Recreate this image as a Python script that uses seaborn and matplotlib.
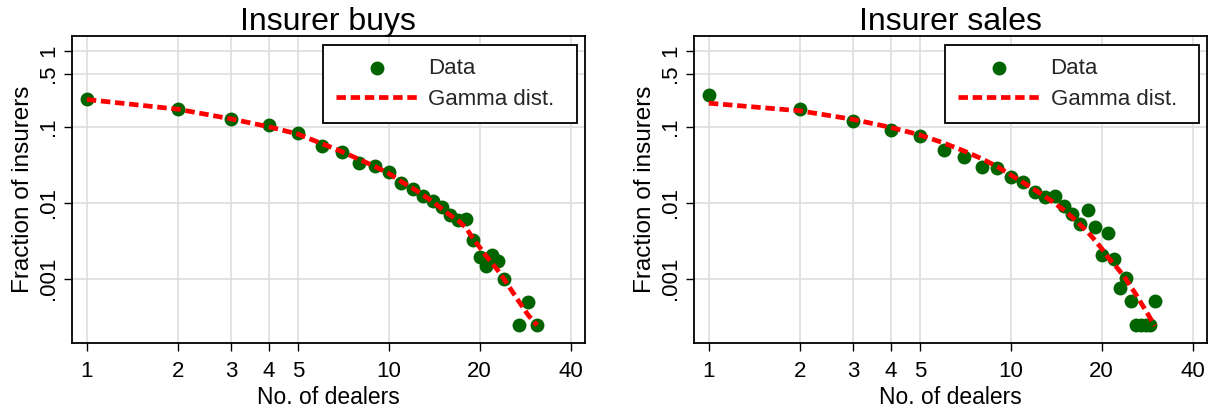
import matplotlib
matplotlib.use("Agg")
import matplotlib.pyplot as plt
from matplotlib.ticker import FixedLocator, FixedFormatter, NullLocator
import pandas as pd
import seaborn as sns

# --- data -------------------------------------------------------------
titles = ["Insurer buys", "Insurer sales"]

dealers_buys = [1, 2, 3, 4, 5, 6, 7, 8, 9, 10, 11, 12, 13, 14, 15, 16, 17, 18,
                19, 20, 21, 22, 23, 24, 27, 29, 31]
frac_buys = [0.233, 0.173, 0.126, 0.105, 0.082, 0.056, 0.046, 0.033, 0.030,
             0.025, 0.0183, 0.0150, 0.0122, 0.0105, 0.0087, 0.0070, 0.0060,
             0.0061, 0.0032, 0.00195, 0.00147, 0.00203, 0.00172, 0.00098,
             0.000247, 0.00049, 0.000247]
gamma_buys = [0.228, 0.170, 0.127, 0.100, 0.080, 0.060, 0.047, 0.037, 0.030,
              0.0243, 0.0190, 0.0155, 0.0126, 0.0103, 0.0083, 0.0068, 0.0058,
              0.0047, 0.0034, 0.0026, 0.0020, 0.0016, 0.00128, 0.00101,
              0.00050, 0.00033, 0.000245]

dealers_sales = list(range(1, 31))
frac_sales = [0.263, 0.170, 0.119, 0.0904, 0.0761, 0.0493, 0.0403, 0.0298,
              0.0289, 0.0215, 0.0187, 0.0140, 0.0120, 0.0122, 0.0090, 0.0071,
              0.0053, 0.0081, 0.0048, 0.00204, 0.00405, 0.00180, 0.00076,
              0.00102, 0.00051, 0.00025, 0.00025, 0.00025, 0.00025, 0.00051]
gamma_sales = [0.204, 0.162, 0.125, 0.098, 0.078, 0.061, 0.048, 0.038, 0.030,
               0.0232, 0.0184, 0.0148, 0.0120, 0.0098, 0.0080, 0.0064, 0.0051,
               0.0041, 0.0032, 0.0025, 0.0019, 0.00155, 0.00125, 0.00100,
               0.00078, 0.00062, 0.00048, 0.00038, 0.00030, 0.00024]

x_ticks = [1, 2, 3, 4, 5, 10, 20, 40]
x_tick_labels = ["1", "2", "3", "4", "5", "10", "20", "40"]
y_ticks = [0.001, 0.01, 0.1, 0.5, 1]
y_tick_labels = [".001", ".01", ".1", ".5", "1"]

panels = [
    pd.DataFrame({"dealers": dealers_buys, "frac": frac_buys, "gamma": gamma_buys}),
    pd.DataFrame({"dealers": dealers_sales, "frac": frac_sales, "gamma": gamma_sales}),
]

# --- style ------------------------------------------------------------
sns.set_theme(style="white")
plt.rcParams["font.family"] = ["Liberation Sans", "DejaVu Sans"]
plt.rcParams["axes.edgecolor"] = "black"
plt.rcParams["axes.linewidth"] = 1.3

GREEN = "#006400"
RED = "#ff0000"
GRID = "#dedede"

fig = plt.figure(figsize=(12.19, 4.08), dpi=100)
ax_lefts = [0.0587, 0.5690]

for left, title, df in zip(ax_lefts, titles, panels):
    ax = fig.add_axes([left, 0.160, 0.4208, 0.7517])

    sns.scatterplot(data=df, x="dealers", y="frac", ax=ax, color=GREEN,
                    s=100, linewidth=0, label="Data", zorder=3)
    sns.lineplot(data=df, x="dealers", y="gamma", ax=ax, color=RED,
                 linewidth=3.4, linestyle=(0, (2, 1)), label="Gamma dist.",
                 errorbar=None, zorder=4)

    ax.set_xscale("log")
    ax.set_yscale("log")
    ax.set_xlim(0.89, 44.5)
    ax.set_ylim(1.44e-4, 1.56)

    ax.xaxis.set_major_locator(FixedLocator(x_ticks))
    ax.xaxis.set_major_formatter(FixedFormatter(x_tick_labels))
    ax.xaxis.set_minor_locator(NullLocator())
    ax.yaxis.set_major_locator(FixedLocator(y_ticks))
    ax.yaxis.set_major_formatter(FixedFormatter(y_tick_labels))
    ax.yaxis.set_minor_locator(NullLocator())

    ax.tick_params(axis="both", which="major", direction="out", length=6,
                   width=1.0, color="black", labelsize=16, labelcolor="black")
    ax.tick_params(axis="x", pad=7, bottom=True)
    ax.tick_params(axis="y", pad=3, left=True)
    for lab in ax.get_yticklabels():
        lab.set_rotation(90)
        lab.set_va("center")

    ax.grid(True, which="major", color=GRID, linewidth=1.2)
    ax.set_axisbelow(True)
    for sp in ax.spines.values():
        sp.set_color("black")
        sp.set_linewidth(1.3)

    ax.set_title(title, fontsize=23, color="black", pad=4)
    ax.set_xlabel("No. of dealers", fontsize=16.5, color="black", labelpad=3)
    ax.set_ylabel("Fraction of insurers", fontsize=17.5, color="black",
                  labelpad=3)

    handles, labels = ax.get_legend_handles_labels()
    leg = ax.legend(handles, labels, loc="upper right",
                    bbox_to_anchor=(0.49, 0.735, 0.495, 0.2366),
                    mode="expand", borderaxespad=0, fontsize=16,
                    handlelength=3.7, handletextpad=0.45,
                    labelspacing=0.43, borderpad=0.6, frameon=True,
                    fancybox=False, edgecolor="black", framealpha=1)
    leg.get_frame().set_linewidth(1.3)

fig.savefig("out.png", dpi=100)
